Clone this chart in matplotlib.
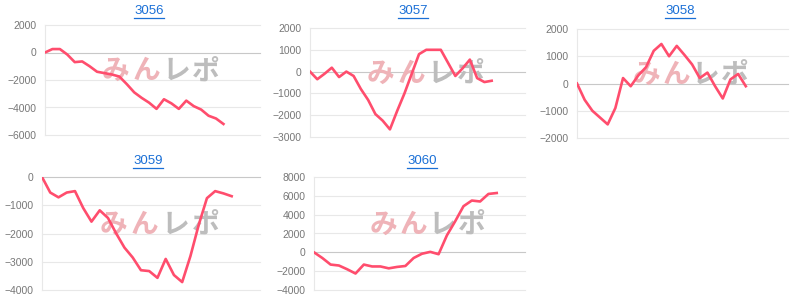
import numpy as np
import matplotlib.pyplot as plt
from matplotlib.lines import Line2D

plt.rcParams['font.family'] = ['Liberation Sans', 'DejaVu Sans']

titles = ['3056', '3057', '3058', '3059', '3060']

v3056 = [0, 250, 250, -150, -700, -650, -1000, -1400, -1500, -1600, -1750, -2300,
         -2900, -3300, -3650, -4100, -3400, -3700, -4100, -3500, -3900, -4150,
         -4600, -4800, -5200]
v3057 = [0, -350, -100, 180, -250, 0, -200, -800, -1300, -1950, -2250, -2650,
         -1800, -1000, -100, 800, 1000, 1000, 1000, 400, -200, 150, 550, -300,
         -480, -420]
v3058 = [0, -600, -1000, -1250, -1500, -900, 200, -100, 300, 600, 1200, 1450,
         1000, 1380, 1050, 700, 200, 400, -100, -550, 150, 350, -100]
v3059 = [0, -550, -720, -550, -500, -1100, -1580, -1180, -1450, -2000, -2500,
         -2850, -3300, -3330, -3570, -2900, -3470, -3720, -2800, -1700, -750,
         -500, -580, -680]
v3060 = [0, -600, -1300, -1400, -1800, -2250, -1300, -1500, -1500, -1700, -1550,
         -1450, -600, -150, 50, -200, 1800, 3300, 4900, 5500, 5400, 6200, 6300]
series = [v3056, v3057, v3058, v3059, v3060]

yticks = [
    [-6000, -4000, -2000, 0, 2000],
    [-3000, -2000, -1000, 0, 1000, 2000],
    [-2000, -1000, 0, 1000, 2000],
    [-4000, -3000, -2000, -1000, 0],
    [-4000, -2000, 0, 2000, 4000, 6000, 8000],
]

# plot boxes in pixels: left, right, top, bottom
boxes = [
    (45, 260, 25, 135),
    (310, 525, 28, 137),
    (577, 788, 29, 138),
    (42, 260, 177, 290),
    (314, 525, 177, 290),
]
# fraction of plot width covered by data
frac = [0.83, 0.845, 0.80, 0.87, 0.866]
title_x = [149, 413, 680, 148, 422]
title_y = [11, 11, 11, 161, 161]

W, H = 800, 301
fig = plt.figure(figsize=(W / 100, H / 100), dpi=100)

line_color = '#ff4d6d'
grid_color = '#e8e8e8'
tick_color = '#777777'
title_color = '#1a6fd6'

title_texts = []
for i in range(5):
    l, r, t, b = boxes[i]
    ax = fig.add_axes([l / W, 1 - b / H, (r - l) / W, (b - t) / H])
    vals = series[i]
    n = len(vals)
    x = np.arange(n)
    ax.plot(x, vals, color=line_color, lw=1.9, zorder=3, solid_joinstyle='round')
    ax.set_xlim(0, (n - 1) / frac[i])
    ax.set_ylim(yticks[i][0], yticks[i][-1])
    ax.set_yticks(yticks[i])
    ax.set_xticks([])
    for yv in yticks[i]:
        c = '#c8c8c8' if yv == 0 else grid_color
        ax.axhline(yv, color=c, lw=0.8, zorder=1, clip_on=False)
    for s in ['top', 'right', 'bottom']:
        ax.spines[s].set_visible(False)
    ax.spines['left'].set_color(grid_color)
    ax.spines['left'].set_linewidth(0.8)
    ax.tick_params(axis='y', length=0, pad=6, labelsize=7.5, labelcolor=tick_color)

    # watermark
    cx = 0.54
    chars = ['み', 'ん', 'レ', 'ポ']
    cols = ['#efb3b8', '#efb3b8', '#bdbdbd', '#bdbdbd']
    for k, ch in enumerate(chars):
        ax.text(cx + (k - 1.5) * 0.14, 0.58, ch, transform=ax.transAxes,
                ha='center', va='center', fontsize=20, fontweight='bold',
                color=cols[k], family=['Noto Sans CJK JP', 'DejaVu Sans'],
                zorder=2)

    tt = fig.text(title_x[i] / W, 1 - title_y[i] / H, titles[i], ha='center',
                  va='center', fontsize=9.5, color=title_color)
    title_texts.append(tt)

fig.canvas.draw()
renderer = fig.canvas.get_renderer()
for tt in title_texts:
    bb = tt.get_window_extent(renderer)
    y = bb.y0 - 1
    fig.add_artist(Line2D([bb.x0 / W, bb.x1 / W], [y / H, y / H],
                          color=title_color, lw=0.9, transform=fig.transFigure))

fig.savefig('out.png', dpi=100)
